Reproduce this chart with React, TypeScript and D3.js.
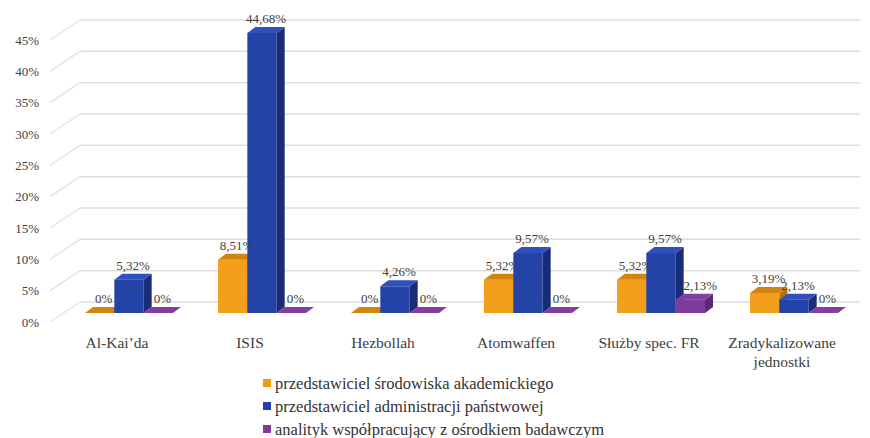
import * as React from "react";
import * as d3 from "d3";

// categories and series
const categories = ["Al-Kai’da", "ISIS", "Hezbollah", "Atomwaffen", "Służby spec. FR", "Zradykalizowane jednostki"];
const seriesNames = [
  "przedstawiciel środowiska akademickiego",
  "przedstawiciel administracji państwowej",
  "analityk współpracujący z ośrodkiem badawczym",
];
const academic = [0, 8.51, 0, 5.32, 5.32, 3.19];
const administration = [5.32, 44.68, 4.26, 9.57, 9.57, 2.13];
const analyst = [0, 0, 0, 0, 2.13, 0];
const yTicks = [0, 5, 10, 15, 20, 25, 30, 35, 40, 45];

const colors = [
  { front: "#F49F1C", top: "#D1850F", side: "#B8720A", legend: "#F39C12" },
  { front: "#2343A6", top: "#2F50BE", side: "#182C78", legend: "#2443A8" },
  { front: "#7E3C9C", top: "#823F9F", side: "#5C2A75", legend: "#7D3C98" },
];

const W = 870, H = 438;
const serif = { fontFamily: "'Liberation Serif', 'DejaVu Serif', 'Times New Roman', Times, serif" };

function fmt(v: number) {
  return v === 0 ? "0%" : v.toFixed(2).replace(".", ",") + "%";
}

export default function App() {
  const values = [academic, administration, analyst];

  // front plane (tick labels), bar plane, back wall
  const yFront = d3.scaleLinear().domain([0, 45]).range([322, 40]);
  const yBar = d3.scaleLinear().domain([0, 45]).range([313, 31]);
  const yBack = d3.scaleLinear().domain([0, 45]).range([302, 20]);

  const x = d3.scaleBand<string>()
    .domain(categories)
    .range([85, 85 + 5 * 133 + 88])
    .paddingInner(45 / 133)
    .paddingOuter(0);
  const xInner = d3.scaleBand<number>().domain([0, 1, 2]).range([0, x.bandwidth()]);

  const dx = 8, dy = -6; // bar depth
  const base = yBar(0);

  const bars: React.ReactNode[] = [];
  const labels: React.ReactNode[] = [];
  categories.forEach((c, ci) => {
    values.forEach((arr, si) => {
      const v = arr[ci];
      const x0 = (x(c) as number) + (xInner(si) as number);
      const w = xInner.bandwidth();
      const yt = yBar(v);
      const col = colors[si];
      const top = `${x0},${yt} ${x0 + dx},${yt + dy} ${x0 + w + dx},${yt + dy} ${x0 + w},${yt}`;
      const side = `${x0 + w},${yt} ${x0 + w + dx},${yt + dy} ${x0 + w + dx},${base + dy} ${x0 + w},${base}`;
      bars.push(
        <g key={`b${ci}-${si}`}>
          {v > 0 && <rect x={x0} y={yt} width={w} height={base - yt} fill={col.front} />}
          {v > 0 && <polygon points={side} fill={col.side} />}
          <polygon points={top} fill={col.top} />
        </g>
      );
      // a label next to a much taller left neighbour sits clear of its side face
      const prev = si > 0 ? values[si - 1][ci] : 0;
      const nudge = v > 0 && prev - v > 3 ? 6 : 0;
      labels.push(
        <text key={`l${ci}-${si}`} x={x0 + w / 2 + dx / 2 + nudge} y={yt + dy - 4}
          textAnchor="middle" fontSize={13} fill="#404040" style={serif}>
          {fmt(v)}
        </text>
      );
    });
  });

  return (
    <svg width={W} height={H} style={{ position: "absolute", left: 0, top: 0, background: "#fff" }}>
      {/* back wall gridlines and side-wall diagonals */}
      {yTicks.map((t) => (
        <g key={`g${t}`}>
          <line x1={80} x2={860} y1={yBack(t)} y2={yBack(t)} stroke="#DEDEDE" strokeWidth={1.5} />
          <line x1={50} x2={80} y1={yFront(t)} y2={yBack(t)} stroke="#E4E4E4" strokeWidth={1.5} />
          <text x={39} y={yFront(t)} dy="0.35em" textAnchor="end" fontSize={13}
            fill="#404040" style={serif}>{t}%</text>
        </g>
      ))}
      {bars}
      {labels}
      {categories.map((c) => {
        const cx = (x(c) as number) + x.bandwidth() / 2 - 12;
        const lines = c === "Zradykalizowane jednostki" ? ["Zradykalizowane", "jednostki"] : [c];
        return (
          <text key={`c${c}`} x={cx} y={348} textAnchor="middle" fontSize={15.5}
            fill="#404040" style={serif}>
            {lines.map((l, i) => (
              <tspan key={i} x={cx} dy={i === 0 ? 0 : 19}>{l}</tspan>
            ))}
          </text>
        );
      })}
      {seriesNames.map((s, i) => (
        <g key={`lg${i}`} transform={`translate(263,${383 + i * 23})`}>
          <rect x={0} y={-4} width={8} height={8} fill={colors[i].legend} />
          <text x={12} y={0} dy="0.35em" fontSize={16.5} fill="#333" style={serif}>{s}</text>
        </g>
      ))}
    </svg>
  );
}
